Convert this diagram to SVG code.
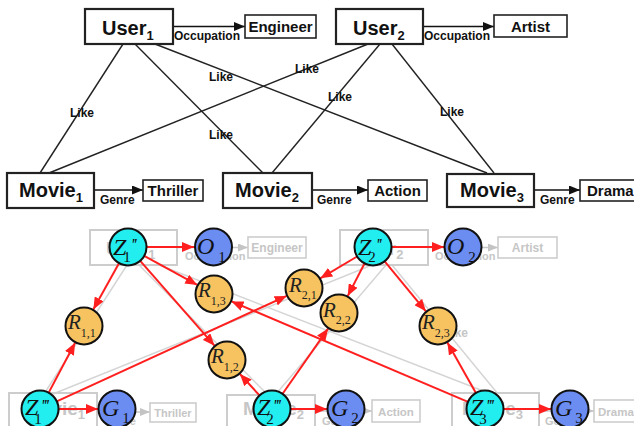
<svg xmlns="http://www.w3.org/2000/svg" width="634" height="426" viewBox="0 0 634 426">
<defs>
<marker id="ab" markerUnits="userSpaceOnUse" markerWidth="11" markerHeight="9" refX="11" refY="4.5" orient="auto"><path d="M0,0 L11,4.5 L0,9 z" fill="#111"/></marker>
<marker id="ag" markerUnits="userSpaceOnUse" markerWidth="10" markerHeight="8" refX="10" refY="4" orient="auto"><path d="M0,0 L10,4 L0,8 z" fill="#c4c4c4"/></marker>
<marker id="ar" markerUnits="userSpaceOnUse" markerWidth="12" markerHeight="10" refX="12" refY="5" orient="auto"><path d="M0,0 L12,5 L0,10 z" fill="#ff1f1f"/></marker>
</defs>
<style>
.big{font-family:"Liberation Sans",Arial,sans-serif;font-weight:bold;font-size:20px;fill:#111}
.sub{font-size:13px}
.val{font-family:"Liberation Sans",Arial,sans-serif;font-weight:bold;font-size:15px;fill:#111;text-anchor:middle}
.lbl{font-family:"Liberation Sans",Arial,sans-serif;font-weight:bold;font-size:12px;fill:#111}
.like{font-family:"Liberation Sans",Arial,sans-serif;font-weight:bold;font-size:12px;fill:#111;text-anchor:middle}
.bx{fill:#fff;stroke:#222;stroke-width:2.2}
.sbx{fill:#fff;stroke:#222;stroke-width:1.6}
.ln{stroke:#222;stroke-width:1.4;fill:none}
.ar{stroke:#111;stroke-width:1.6;marker-end:url(#ab)}
.fbx{fill:none;stroke:#cdcdcd;stroke-width:2}
.fsbx{fill:none;stroke:#cdcdcd;stroke-width:1.6}
.fbig{font-family:"Liberation Sans",Arial,sans-serif;font-weight:bold;font-size:19px;fill:#c6c6c6}
.fval{font-family:"Liberation Sans",Arial,sans-serif;font-weight:bold;font-size:12px;fill:#c6c6c6;text-anchor:middle}
.flbl{font-family:"Liberation Sans",Arial,sans-serif;font-weight:bold;font-size:11px;fill:#c6c6c6}
.fln{stroke:#d4d4d4;stroke-width:1.4;fill:none}
.far{stroke:#c8c8c8;stroke-width:1.4;marker-end:url(#ag)}
.red{stroke:#ff1f1f;stroke-width:2;fill:none;marker-end:url(#ar)}
.cz{fill:#22eef0;stroke:#111;stroke-width:2}
.co{fill:#6b8cf0;stroke:#111;stroke-width:2}
.cr{fill:#f7c360;stroke:#111;stroke-width:2}
.m{font-family:"Liberation Serif","Times New Roman",serif;font-style:italic;font-size:24px;fill:#111}
.mr{font-family:"Liberation Serif","Times New Roman",serif;font-style:italic;font-size:21px;fill:#222}
.ms{font-style:normal;font-size:15px}
.sp{font-style:italic;font-size:17px;letter-spacing:-1.5px}
.rs{font-style:normal;font-size:12px}
</style>

<!-- ===== Top graph ===== -->
<g id="top-connectors">
<line class="ln" x1="123" y1="44" x2="40" y2="173"/>
<line class="ln" x1="135" y1="44" x2="263" y2="173"/>
<line class="ln" x1="155" y1="44" x2="487" y2="173"/>
<line class="ln" x1="368" y1="44" x2="49" y2="173"/>
<line class="ln" x1="380" y1="44" x2="272" y2="173"/>
<line class="ln" x1="392" y1="44" x2="494" y2="173"/>
<text class="like" x="82" y="117">Like</text>
<text class="like" x="221" y="139">Like</text>
<text class="like" x="221" y="81">Like</text>
<text class="like" x="307" y="73">Like</text>
<text class="like" x="340" y="101">Like</text>
<text class="like" x="452" y="116">Like</text>
<line class="ar" x1="173" y1="26.5" x2="245" y2="26.5"/>
<line class="ar" x1="423" y1="26.5" x2="494" y2="26.5"/>
<line class="ar" x1="94" y1="190" x2="143" y2="190"/>
<line class="ar" x1="312" y1="190" x2="368" y2="190"/>
<line class="ar" x1="534" y1="190" x2="580" y2="190"/>
<text class="lbl" x="174" y="40">Occupation</text>
<text class="lbl" x="424" y="40">Occupation</text>
<text class="lbl" x="100" y="204">Genre</text>
<text class="lbl" x="317" y="204">Genre</text>
<text class="lbl" x="540" y="204">Genre</text>
</g>
<g id="user1"><rect class="bx" x="85" y="9" width="88" height="35"/><text class="big" x="102" y="35">User<tspan class="sub" dy="5">1</tspan></text></g>
<g id="user2"><rect class="bx" x="336" y="9" width="87" height="35"/><text class="big" x="353" y="35">User<tspan class="sub" dy="5">2</tspan></text></g>
<g id="engineer"><rect class="sbx" x="245" y="15" width="71" height="23"/><text class="val" x="280.5" y="32">Engineer</text></g>
<g id="artist"><rect class="sbx" x="494" y="15" width="73" height="22"/><text class="val" x="530.5" y="31.5">Artist</text></g>
<g id="movie1"><rect class="bx" x="7" y="173" width="87" height="35"/><text class="big" x="19" y="197">Movie<tspan class="sub" dy="5">1</tspan></text></g>
<g id="movie2"><rect class="bx" x="223" y="173" width="89" height="35"/><text class="big" x="235" y="197">Movie<tspan class="sub" dy="5">2</tspan></text></g>
<g id="movie3"><rect class="bx" x="447" y="174" width="87" height="33"/><text class="big" x="460" y="197">Movie<tspan class="sub" dy="5">3</tspan></text></g>
<g id="thriller"><rect class="sbx" x="143" y="180" width="60" height="21"/><text class="val" x="173" y="195.5">Thriller</text></g>
<g id="action"><rect class="sbx" x="368" y="180" width="59" height="21"/><text class="val" x="397.5" y="195.5">Action</text></g>
<g id="drama"><rect class="sbx" x="580" y="180" width="62" height="21"/><text class="val" x="587" y="195.5" style="text-anchor:start">Drama</text></g>

<!-- ===== Bottom: faded copy of the graph ===== -->
<g id="faded-graph">
<line class="fln" x1="127" y1="265" x2="44" y2="394"/>
<line class="fln" x1="139" y1="265" x2="267" y2="394"/>
<line class="fln" x1="159" y1="265" x2="491" y2="394"/>
<line class="fln" x1="372" y1="265" x2="53" y2="394"/>
<line class="fln" x1="386" y1="265" x2="276" y2="394"/>
<line class="fln" x1="392" y1="265" x2="498" y2="394"/>
<text class="fval" x="456" y="337">Like</text>
<line class="far" x1="177" y1="247.5" x2="248" y2="247.5"/>
<line class="far" x1="428" y1="247.5" x2="498" y2="247.5"/>
<line class="far" x1="97" y1="412" x2="150" y2="412"/>
<line class="far" x1="315" y1="411" x2="372" y2="411"/>
<line class="far" x1="539" y1="411" x2="594" y2="411"/>
<rect class="fbx" x="90" y="230" width="87" height="35"/>
<text class="fbig" x="106" y="255">User<tspan class="sub" dy="4">1</tspan></text>
<rect class="fbx" x="340" y="230" width="88" height="35"/>
<text class="fbig" x="354" y="255">User<tspan class="sub" dy="4">2</tspan></text>
<rect class="fsbx" x="248" y="237" width="58" height="21"/>
<text class="fval" x="277" y="252">Engineer</text>
<rect class="fsbx" x="498" y="237" width="59" height="21"/>
<text class="fval" x="527.5" y="252">Artist</text>
<text class="flbl" x="185" y="260">Occupation</text>
<text class="flbl" x="435" y="260">Occupation</text>
<rect class="fbx" x="9" y="393" width="88" height="36"/>
<text class="fbig" x="24" y="415">Movie<tspan class="sub" dy="4">1</tspan></text>
<rect class="fbx" x="227" y="395" width="88" height="36"/>
<text class="fbig" x="243" y="415">Movie<tspan class="sub" dy="4">2</tspan></text>
<rect class="fbx" x="452" y="393" width="87" height="36"/>
<text class="fbig" x="462" y="415">Movie<tspan class="sub" dy="4">3</tspan></text>
<rect class="fsbx" x="150" y="403" width="46" height="19"/>
<text class="fval" x="173" y="416.5" style="font-size:11px">Thriller</text>
<rect class="fsbx" x="372" y="400" width="48" height="22"/>
<text class="fval" x="396" y="416" style="font-size:11.5px">Action</text>
<rect class="fsbx" x="594" y="400" width="50" height="22"/>
<text class="fval" x="598" y="416" style="font-size:11.5px;text-anchor:start">Drama</text>
<text class="flbl" x="104" y="425">Genre</text>
<text class="flbl" x="322" y="425">Genre</text>
<text class="flbl" x="545" y="425">Genre</text>
</g>

<g id="model-connectors">
<line class="red" x1="146.5" y1="247" x2="194" y2="247"/>
<line class="red" x1="391.5" y1="247" x2="444" y2="247"/>
<line class="red" x1="119" y1="263.2" x2="93.3" y2="309.4"/>
<line class="red" x1="144.2" y1="255.9" x2="197.3" y2="284.9"/>
<line class="red" x1="140.2" y1="260.9" x2="214.5" y2="345.7"/>
<line class="red" x1="357.1" y1="256.5" x2="320.3" y2="278.3"/>
<line class="red" x1="364.5" y1="263.5" x2="347.7" y2="296.1"/>
<line class="red" x1="384.7" y1="261.3" x2="425.9" y2="311.3"/>
<line class="red" x1="48.7" y1="392.6" x2="75.1" y2="342.8"/>
<line class="red" x1="56.8" y1="401.3" x2="286.7" y2="295.9"/>
<line class="red" x1="58.5" y1="409" x2="98" y2="409"/>
<line class="red" x1="259.5" y1="395.4" x2="239.9" y2="374"/>
<line class="red" x1="282.6" y1="393.8" x2="328.1" y2="328.6"/>
<line class="red" x1="290.5" y1="409" x2="327" y2="409"/>
<line class="red" x1="475.9" y1="392.9" x2="447.4" y2="342.5"/>
<line class="red" x1="468" y1="401.8" x2="231.5" y2="301.4"/>
<line class="red" x1="503.5" y1="409" x2="551" y2="409"/>
</g>

<g id="Z1pp"><circle class="cz" cx="128" cy="247" r="18.5"/><text class="m" x="113" y="255">Z<tspan class="ms" dx="-3" dy="7">1</tspan><tspan class="sp" dx="0" dy="-12">''</tspan></text></g>
<g id="Z2pp"><circle class="cz" cx="373" cy="247" r="18.5"/><text class="m" x="358" y="255">Z<tspan class="ms" dx="-3" dy="7">2</tspan><tspan class="sp" dx="0" dy="-12">''</tspan></text></g>
<g id="O1"><circle class="co" cx="213.5" cy="247" r="18.5"/><text class="m" x="197" y="254">O<tspan class="ms" dx="4" dy="8">1</tspan></text></g>
<g id="O2"><circle class="co" cx="463" cy="247" r="18.5"/><text class="m" x="447" y="254">O<tspan class="ms" dx="4" dy="8">2</tspan></text></g>
<g id="R11"><circle class="cr" cx="84" cy="326" r="18.5"/><text class="mr" x="68" y="329">R<tspan class="rs" dx="0" dy="8">1,1</tspan></text></g>
<g id="R12"><circle class="cr" cx="227" cy="360" r="18.5"/><text class="mr" x="211" y="363">R<tspan class="rs" dx="0" dy="8">1,2</tspan></text></g>
<g id="R13"><circle class="cr" cx="214" cy="294" r="18.5"/><text class="mr" x="198" y="297">R<tspan class="rs" dx="0" dy="8">1,3</tspan></text></g>
<g id="R21"><circle class="cr" cx="304" cy="288" r="18.5"/><text class="mr" x="289" y="292">R<tspan class="rs" dx="0" dy="7">2,1</tspan></text></g>
<g id="R22"><circle class="cr" cx="339" cy="313" r="18.5"/><text class="mr" x="323" y="317">R<tspan class="rs" dx="0" dy="7">2,2</tspan></text></g>
<g id="R23"><circle class="cr" cx="438" cy="326" r="18.5"/><text class="mr" x="422" y="329">R<tspan class="rs" dx="0" dy="8">2,3</tspan></text></g>
<g id="Z1ppp"><circle class="cz" cx="40" cy="409" r="18.5"/><text class="m" x="25" y="415">Z<tspan class="ms" dx="-4" dy="9">1</tspan><tspan class="sp" dx="-1" dy="-13">'''</tspan></text></g>
<g id="Z2ppp"><circle class="cz" cx="272" cy="409" r="18.5"/><text class="m" x="257" y="415">Z<tspan class="ms" dx="-4" dy="9">2</tspan><tspan class="sp" dx="-1" dy="-13">'''</tspan></text></g>
<g id="Z3ppp"><circle class="cz" cx="485" cy="409" r="18.5"/><text class="m" x="470" y="415">Z<tspan class="ms" dx="-4" dy="9">3</tspan><tspan class="sp" dx="-1" dy="-13">'''</tspan></text></g>
<g id="G1"><circle class="co" cx="117" cy="409" r="18.5"/><text class="m" x="102" y="416">G<tspan class="ms" dx="3" dy="7">1</tspan></text></g>
<g id="G2"><circle class="co" cx="346" cy="409" r="18.5"/><text class="m" x="331" y="416">G<tspan class="ms" dx="3" dy="7">2</tspan></text></g>
<g id="G3"><circle class="co" cx="570" cy="409" r="18.5"/><text class="m" x="555" y="416">G<tspan class="ms" dx="3" dy="7">3</tspan></text></g>
</svg>
